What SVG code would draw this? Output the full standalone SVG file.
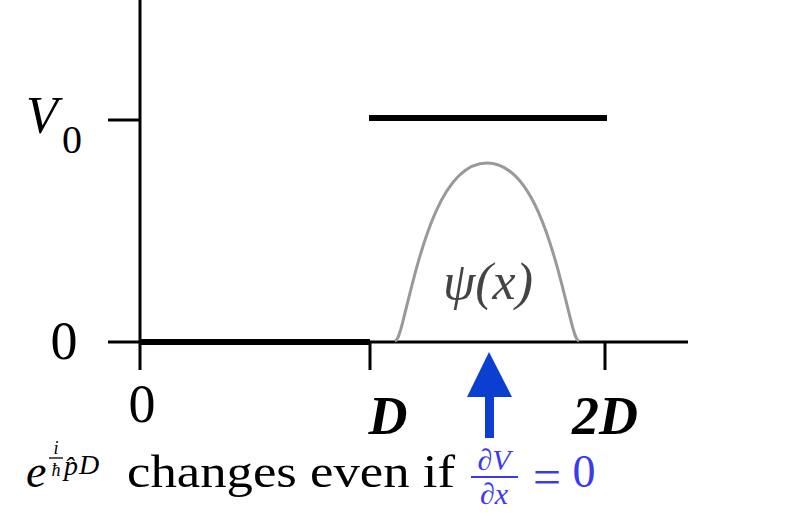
<svg xmlns="http://www.w3.org/2000/svg" width="791" height="517" viewBox="0 0 791 517">
<style>
.ax{stroke:#000;stroke-width:3;fill:none}
.thick{stroke:#000;stroke-width:6;fill:none}
.serif{font-family:"Liberation Serif","DejaVu Serif",serif}
.it{font-style:italic}
.blue{fill:#3a3af0}
</style>
<rect width="791" height="517" fill="#fff"/>
<g id="axes">
  <line class="ax" x1="140" y1="0" x2="140" y2="370"/>
  <line class="ax" x1="140" y1="342" x2="688" y2="342"/>
  <line class="ax" x1="108" y1="120" x2="140" y2="120"/>
  <line class="ax" x1="108" y1="342" x2="140" y2="342"/>
  <line class="ax" x1="370" y1="342" x2="370" y2="370"/>
  <line class="ax" x1="605" y1="342" x2="605" y2="370"/>
</g>
<g id="potential">
  <line class="thick" x1="140" y1="342" x2="370" y2="342"/>
  <line class="thick" x1="369" y1="118" x2="607" y2="118"/>
</g>
<g id="wavefunction">
  <path d="M395,341 C398,340 399,335 402,325 C418,262 438,163 487,163 C536,163 556,262 572,325 C575,335 576,340 579,341" fill="none" stroke="#999" stroke-width="3"/>
  <text class="serif it" x="488" y="299" font-size="52" fill="#444" text-anchor="middle">ψ(x)</text>
</g>
<g id="labels" class="serif">
  <text class="it" x="26" y="133" font-size="52">V</text>
  <text x="62" y="153" font-size="40">0</text>
  <text x="64" y="359" font-size="54" text-anchor="middle">0</text>
  <text x="142" y="422" font-size="54" text-anchor="middle">0</text>
  <text x="388" y="434" font-size="54" font-weight="bold" font-style="italic" text-anchor="middle">D</text>
  <text x="605" y="434" font-size="54" font-weight="bold" font-style="italic" text-anchor="middle">2D</text>
</g>
<g id="arrow">
  <rect x="485" y="395" width="9" height="43" fill="#0b3fd1"/>
  <polygon points="489,352 512,397 467,397" fill="#0b3fd1"/>
</g>
<g id="caption" class="serif">
  <text class="it" x="26" y="487" font-size="46">e</text>
  <text class="it" x="56" y="454" font-size="18" text-anchor="middle">i</text>
  <line x1="49" y1="458" x2="63" y2="458" stroke="#000" stroke-width="1.3"/>
  <text class="it" x="56" y="476" font-size="18" text-anchor="middle">ħ</text>
  <text class="it" x="64" y="475" font-size="28">p̂</text>
  <text class="it" x="79" y="474" font-size="28">D</text>
  <text x="127" y="487" font-size="46" textLength="328" lengthAdjust="spacingAndGlyphs">changes even if</text>
  <text class="blue" x="494" y="470" font-size="30" text-anchor="middle"><tspan>∂</tspan><tspan class="it">V</tspan></text>
  <line x1="471" y1="477" x2="518" y2="477" stroke="#3a3af0" stroke-width="2"/>
  <text class="blue" x="494" y="504" font-size="30" text-anchor="middle"><tspan>∂</tspan><tspan class="it">x</tspan></text>
  <text class="blue" x="547" y="494" font-size="50" text-anchor="middle">=</text>
  <text class="blue" x="584" y="487" font-size="46" text-anchor="middle">0</text>
</g>
</svg>
